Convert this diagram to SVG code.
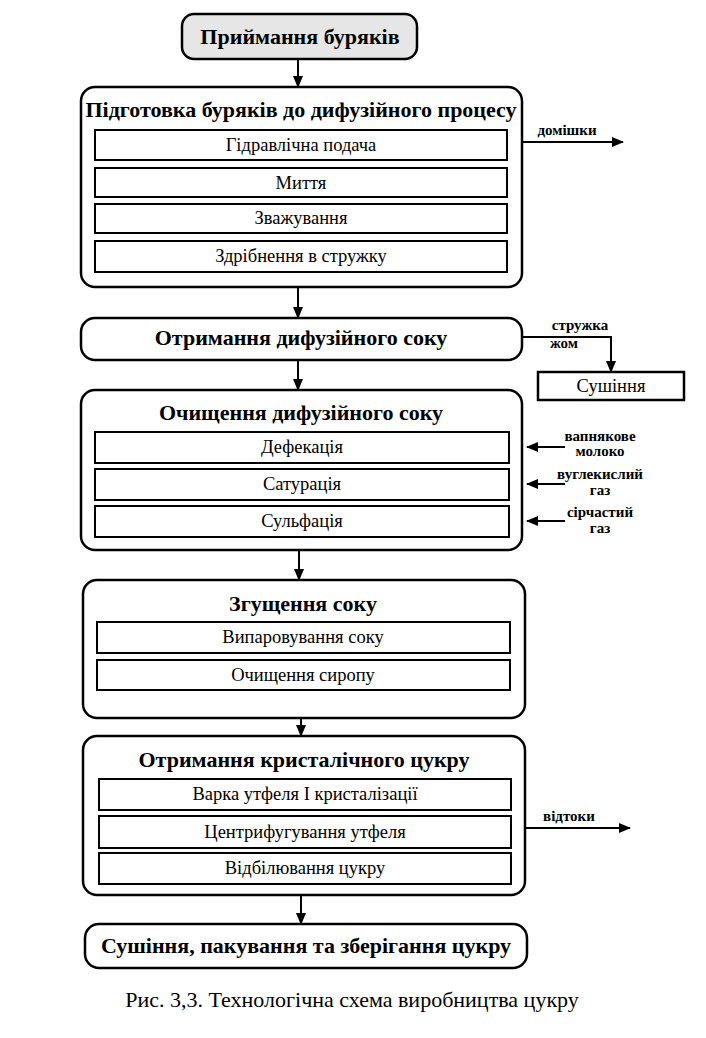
<svg xmlns="http://www.w3.org/2000/svg" width="706" height="1038" viewBox="0 0 706 1038">
<defs>
<marker id="arr" markerWidth="12" markerHeight="10" refX="11" refY="5" orient="auto" markerUnits="userSpaceOnUse">
<path d="M0,0 L12,5 L0,10 Z" fill="#000"/>
</marker>
<style>
.outer{fill:#fff;stroke:#000;stroke-width:2.5}
.sub{fill:#fff;stroke:#000;stroke-width:2}
.title{font-family:"Liberation Serif","Times New Roman",serif;font-weight:bold;font-size:22px;text-anchor:middle}
.txt{font-family:"Liberation Serif","Times New Roman",serif;font-size:18.5px;text-anchor:middle}
.lbl{font-family:"Liberation Serif","Times New Roman",serif;font-weight:bold;font-size:15px;text-anchor:middle}
.conn{stroke:#000;stroke-width:2;fill:none}
</style>
</defs>
<rect width="706" height="1038" fill="#fff"/>

<g id="connectors">
<line class="conn" x1="298" y1="60" x2="298" y2="87" marker-end="url(#arr)"/>
<line class="conn" x1="298" y1="287" x2="298" y2="318" marker-end="url(#arr)"/>
<line class="conn" x1="298" y1="360" x2="298" y2="390" marker-end="url(#arr)"/>
<line class="conn" x1="299" y1="550" x2="299" y2="580" marker-end="url(#arr)"/>
<line class="conn" x1="301" y1="718" x2="301" y2="736" marker-end="url(#arr)"/>
<line class="conn" x1="301" y1="895" x2="301" y2="924" marker-end="url(#arr)"/>
<line class="conn" x1="522" y1="142" x2="623" y2="142" marker-end="url(#arr)"/>
<text class="lbl" x="567" y="135">домішки</text>
<polyline class="conn" points="522,337 611,337 611,372" marker-end="url(#arr)"/>
<text class="lbl" x="580" y="330">стружка</text>
<text class="lbl" x="564" y="348">жом</text>
<line class="conn" x1="565" y1="447" x2="527" y2="447" marker-end="url(#arr)"/>
<line class="conn" x1="565" y1="484" x2="527" y2="484" marker-end="url(#arr)"/>
<line class="conn" x1="565" y1="521" x2="527" y2="521" marker-end="url(#arr)"/>
<text class="lbl" x="600" y="441">вапнякове</text>
<text class="lbl" x="600" y="456">молоко</text>
<text class="lbl" x="600" y="479">вуглекислий</text>
<text class="lbl" x="600" y="495">газ</text>
<text class="lbl" x="600" y="517">сірчастий</text>
<text class="lbl" x="600" y="533">газ</text>
<line class="conn" x1="525" y1="828" x2="630" y2="828" marker-end="url(#arr)"/>
<text class="lbl" x="569" y="821">відтоки</text>
</g>

<g id="n-pryimannia">
<rect x="182" y="14" width="235" height="45" rx="12" fill="#e6e6e6" stroke="#000" stroke-width="2.5"/>
<text class="title" x="300" y="44">Приймання буряків</text>
</g>

<g id="n-pidgotovka">
<rect class="outer" x="81" y="87" width="441" height="200" rx="14"/>
<text class="title" x="301" y="117">Підготовка буряків до дифузійного процесу</text>
<rect class="sub" x="95" y="130" width="412" height="30"/>
<text class="txt" x="301" y="151">Гідравлічна подача</text>
<rect class="sub" x="95" y="168" width="412" height="29"/>
<text class="txt" x="301" y="189">Миття</text>
<rect class="sub" x="95" y="204" width="412" height="29"/>
<text class="txt" x="301" y="224">Зважування</text>
<rect class="sub" x="95" y="241" width="412" height="31"/>
<text class="txt" x="301" y="262">Здрібнення в стружку</text>
</g>

<g id="n-otrymannia-soku">
<rect class="outer" x="81" y="318" width="441" height="42" rx="14"/>
<text class="title" x="301" y="345">Отримання дифузійного соку</text>
</g>

<g id="n-sushinnia-zhom">
<rect x="538" y="372" width="146" height="28" fill="#fff" stroke="#000" stroke-width="2.5"/>
<text class="txt" x="611" y="392">Сушіння</text>
</g>

<g id="n-ochyshchennia">
<rect class="outer" x="81" y="390" width="441" height="160" rx="14"/>
<text class="title" x="301" y="420">Очищення дифузійного соку</text>
<rect class="sub" x="95" y="432" width="414" height="31"/>
<text class="txt" x="302" y="453">Дефекація</text>
<rect class="sub" x="95" y="469" width="414" height="31"/>
<text class="txt" x="302" y="490">Сатурація</text>
<rect class="sub" x="95" y="506" width="414" height="31"/>
<text class="txt" x="302" y="527">Сульфація</text>
</g>

<g id="n-zgushchennia">
<rect class="outer" x="83" y="580" width="442" height="138" rx="14"/>
<text class="title" x="303" y="611">Згущення соку</text>
<rect class="sub" x="97" y="622" width="413" height="31"/>
<text class="txt" x="303" y="643">Випаровування соку</text>
<rect class="sub" x="97" y="660" width="413" height="30"/>
<text class="txt" x="303" y="681">Очищення сиропу</text>
</g>

<g id="n-kryst">
<rect class="outer" x="83" y="736" width="442" height="159" rx="14"/>
<text class="title" x="304" y="767">Отримання кристалічного цукру</text>
<rect class="sub" x="99" y="779" width="412" height="31"/>
<text class="txt" x="305" y="800">Варка утфеля І кристалізації</text>
<rect class="sub" x="99" y="816" width="412" height="32"/>
<text class="txt" x="305" y="838">Центрифугування утфеля</text>
<rect class="sub" x="99" y="853" width="412" height="31"/>
<text class="txt" x="305" y="874">Відбілювання цукру</text>
</g>

<g id="n-sushinnia-final">
<rect class="outer" x="85" y="924" width="442" height="44" rx="14"/>
<text class="title" x="306" y="953">Сушіння, пакування та зберігання цукру</text>
</g>

<text x="352" y="1007" font-family="Liberation Serif, Times New Roman, serif" font-size="22" text-anchor="middle">Рис. 3,3. Технологічна схема виробництва цукру</text>
</svg>
